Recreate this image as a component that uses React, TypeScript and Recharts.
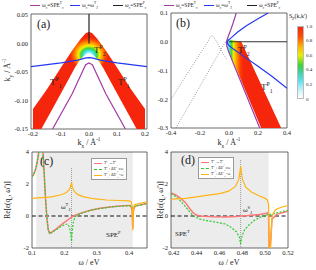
import React from "react";
import { ScatterChart, Scatter, XAxis, YAxis, ReferenceArea, ReferenceLine } from "recharts";

const SERIF = '"Liberation Serif", "DejaVu Serif", serif';
const RED = "#f5260c";
const PURPLE = "#a23aa6";
const BLUE = "#2438f0";
const DARK = "#222222";
const PINK = "#ff7878";
const GREEN = "#2bcc2b";
const ORANGE = "#ffb412";
const SHADE = "#ececec";

// ---- (a) k-space map, T1/T2 channels ----
const A_X_DOMAIN = [-0.207, 0.207];
const A_Y_DOMAIN = [-0.15, 0.052];
const A_X_TICKS = [-0.2, -0.1, 0, 0.1, 0.2];
const A_Y_TICKS = [-0.15, -0.1, -0.05, 0, 0.05];
const A_BAND = [
  [-0.2, -0.15], [-0.2, -0.115], [-0.15, -0.08], [-0.1, -0.042], [-0.06, -0.012], [-0.03, 0.008],
  [-0.012, 0.018], [0, 0.021], [0.012, 0.018], [0.03, 0.008], [0.06, -0.012], [0.1, -0.042],
  [0.15, -0.08], [0.2, -0.115], [0.2, -0.15], [0.17, -0.15], [0.114, -0.1], [0.075, -0.065],
  [0.05, -0.042], [0.03, -0.027], [0.015, -0.02], [0, -0.018], [-0.015, -0.02], [-0.03, -0.027],
  [-0.05, -0.042], [-0.075, -0.065], [-0.114, -0.1], [-0.17, -0.15],
];
const A_SPE_T = [[-0.13, -0.15], [-0.06, -0.088], [-0.012, -0.037], [0, -0.034], [0.012, -0.037], [0.06, -0.088], [0.13, -0.15]];
const A_OMEGA_J = [[-0.207, -0.0405], [-0.1, -0.034], [-0.04, -0.029], [-0.015, -0.0255], [0, -0.0245], [0.015, -0.0255], [0.04, -0.029], [0.1, -0.034], [0.207, -0.0405]];
const A_SPE_P = [[0, 0.052], [0, 0.0]];

// ---- (b) ----
const B_X_DOMAIN = [-0.4, 0.4];
const B_Y_DOMAIN = [-0.3, 0.1];
const B_X_TICKS = [-0.4, -0.2, 0, 0.2, 0.4];
const B_Y_TICKS = [-0.3, -0.2, -0.1, 0, 0.1];
const B_BAND = [
  [-0.022, -0.005], [-0.012, 0.012], [0.005, 0.008], [0.085, 0], [0.36, -0.3],
  [0.222, -0.3], [0.02, -0.058], [0, -0.038], [-0.015, -0.02],
];
const B_SPE_T = [[0.05, 0.1], [0.03, 0.068], [0.01, 0.038], [-0.008, 0.015], [-0.018, 0], [-0.015, -0.015], [-0.002, -0.035], [0.05, -0.1], [0.212, -0.3]];
const B_OMEGA_J = [
  [0.27, 0.1], [0.2, 0.08], [0.12, 0.056], [0.06, 0.034], [0.02, 0.016], [-0.008, 0.004],
  [-0.012, -0.005], [0, -0.013], [0.03, -0.025], [0.1, -0.05], [0.2, -0.085], [0.3, -0.122], [0.4, -0.162],
];
const B_SPE_P = [[0, 0], [0.4, 0]];
const B_DOT_1 = [[-0.4, -0.2], [-0.3, -0.121], [-0.2, -0.042], [-0.15, -0.004], [-0.13, 0.016], [-0.12, 0.022], [-0.108, 0.018], [-0.08, -0.004], [-0.041, -0.042], [-0.01, -0.065]];
const B_DOT_2 = [[-0.366, -0.3], [-0.2, -0.155], [-0.053, -0.025], [-0.025, 0]];

// ---- (c) Re eps vs omega ----
const C_X_DOMAIN = [0.1, 0.455];
const C_Y_DOMAIN = [-2, 4];
const C_X_TICKS = [0.1, 0.2, 0.3, 0.4];
const C_Y_TICKS = [-2, 0, 2, 4];
const C_SPE = [0.113, 0.411];
const C_OMEGA_J = 0.222;
const C_RED = [
  [0.1, 2.45], [0.105, 2.6], [0.11, 2.85], [0.115, 3.25], [0.12, 3.85], [0.124, 5], [0.132, 5],
  [0.134, 4], [0.138, 2.5], [0.142, 1.0], [0.146, -0.1], [0.15, -0.85], [0.154, -1.08], [0.158, -1.05],
  [0.165, -0.95], [0.175, -0.8], [0.19, -0.55], [0.2, -0.4], [0.21, -0.25], [0.22, -0.1], [0.23, 0.02],
  [0.25, 0.18], [0.28, 0.36], [0.31, 0.48], [0.34, 0.56], [0.37, 0.62], [0.4, 0.66], [0.406, 0.6],
  [0.409, 0.3], [0.411, -0.8], [0.413, 0.3], [0.416, 0.55], [0.42, 0.62], [0.43, 0.68], [0.44, 0.72], [0.455, 0.78],
];
const C_GREEN = [
  [0.1, 2.45], [0.105, 2.6], [0.11, 2.85], [0.115, 3.25], [0.12, 3.85], [0.124, 5], [0.132, 5],
  [0.134, 4], [0.138, 2.5], [0.142, 1.0], [0.146, -0.1], [0.15, -0.85], [0.155, -1.1], [0.16, -1.05],
  [0.175, -0.85], [0.19, -0.65], [0.2, -0.55], [0.21, -0.5], [0.216, -0.7], [0.22, -1.2], [0.222, -1.6],
  [0.224, -1.0], [0.228, -0.3], [0.235, 0.0], [0.25, 0.15], [0.28, 0.35], [0.31, 0.47], [0.34, 0.55],
  [0.37, 0.61], [0.4, 0.65], [0.409, 0.6], [0.411, 0.35], [0.413, 0.55], [0.42, 0.62], [0.44, 0.7], [0.455, 0.76],
];
const C_ORANGE = [
  [0.1, 1.1], [0.13, 1.15], [0.16, 1.2], [0.19, 1.33], [0.205, 1.45], [0.215, 1.65], [0.22, 1.9],
  [0.222, 2.1], [0.224, 1.85], [0.23, 1.55], [0.24, 1.35], [0.26, 1.2], [0.29, 1.08], [0.33, 1.0],
  [0.37, 0.97], [0.4, 0.95], [0.406, 0.9], [0.409, 0.6], [0.411, -0.9], [0.413, 0.4], [0.416, 0.7],
  [0.43, 0.78], [0.455, 0.88],
];

// ---- (d) ----
const D_X_DOMAIN = [0.4175, 0.52];
const D_Y_DOMAIN = [-2, 4];
const D_X_TICKS = [0.42, 0.44, 0.46, 0.48, 0.5, 0.52];
const D_Y_TICKS = [-2, 0, 2, 4];
const D_SPE = [0.4175, 0.503];
const D_OMEGA_J = 0.4785;
const D_RED = [
  [0.4175, 1.45], [0.422, 1.3], [0.426, 1.1], [0.43, 0.85], [0.434, 0.45], [0.437, 0.2], [0.44, 0.05],
  [0.445, -0.02], [0.455, -0.05], [0.465, -0.06], [0.475, -0.03], [0.4785, 0], [0.485, 0.03],
  [0.495, 0.1], [0.5, 0.15], [0.502, 0.2], [0.503, 0.1], [0.5035, -2.5], [0.504, -2.5], [0.506, -0.2],
  [0.51, 0.1], [0.52, 0.3],
];
const D_GREEN = [
  [0.4175, 1.4], [0.421, 1.25], [0.425, 1.0], [0.43, 0.6], [0.434, 0.25], [0.438, -0.05], [0.443, -0.2],
  [0.45, -0.3], [0.458, -0.4], [0.465, -0.5], [0.47, -0.7], [0.475, -1.0], [0.4775, -1.35], [0.4785, -1.75],
  [0.4795, -1.3], [0.482, -0.85], [0.486, -0.55], [0.49, -0.3], [0.495, -0.1], [0.5, 0.05], [0.503, 0.1],
  [0.505, 0.1], [0.51, 0.2], [0.52, 0.35],
];
const D_ORANGE = [
  [0.4175, 1.05], [0.43, 1.1], [0.44, 1.2], [0.45, 1.3], [0.46, 1.4], [0.468, 1.55], [0.474, 1.85],
  [0.477, 2.3], [0.4785, 3.1], [0.48, 2.3], [0.483, 1.8], [0.488, 1.5], [0.495, 1.25], [0.5, 1.1],
  [0.502, 1.0], [0.503, 0.7], [0.5035, -3], [0.504, -3], [0.506, 0], [0.509, 0.4], [0.514, 0.55], [0.52, 0.65],
];

const CBAR_TICKS = [1.0, 0.8, 0.6, 0.4, 0.2, 0];

const toPts = (arr: number[][]) => arr.map(([x, y]) => ({ x, y }));
const NoDot = () => null;

const curve = (key: string, pts: number[][], style: Record<string, unknown>) => (
  <Scatter
    key={key}
    data={toPts(pts)}
    fill="none"
    line={{ fill: "none", strokeWidth: 1, ...style }}
    shape={NoDot}
    isAnimationActive={false}
    legendType="none"
  />
);

const tickStyle = { fontSize: 6.5, fill: DARK, fontFamily: SERIF };

function Panel({
  left, top, width, height, mt, mr, yw, xh, xDomain, yDomain, xTicks, yTicks, xd, yd, children,
}: any) {
  return (
    <div style={{ position: "absolute", left, top }}>
      <ScatterChart width={width} height={height} margin={{ top: mt, right: mr, bottom: 0, left: 0 }}>
        <XAxis
          type="number" dataKey="x" domain={xDomain} ticks={xTicks} interval={0}
          allowDataOverflow height={xh} tickLine={false} axisLine={false} tickSize={2} tickMargin={0}
          tick={tickStyle} tickFormatter={(v: number) => v.toFixed(xd)}
        />
        <YAxis
          type="number" dataKey="y" domain={yDomain} ticks={yTicks} interval={0}
          allowDataOverflow width={yw} tickLine={false} axisLine={false} tickSize={2} tickMargin={1}
          tick={tickStyle} tickFormatter={(v: number) => v.toFixed(yd)}
        />
        {children}
        <ReferenceArea
          x1={xDomain[0]} x2={xDomain[1]} y1={yDomain[0]} y2={yDomain[1]}
          fill="none" stroke="#444" strokeWidth={0.8} fillOpacity={0} ifOverflow="visible"
        />
      </ScatterChart>
    </div>
  );
}

const Txt = ({ x, y, size = 6, children, style }: any) => (
  <div style={{ position: "absolute", left: x, top: y, fontSize: size, fontFamily: SERIF, color: DARK, whiteSpace: "nowrap", lineHeight: 1, ...style }}>
    {children}
  </div>
);

const Sw = ({ color, dash, w = 10, h = 1.2 }: any) => (
  <span style={{ display: "inline-block", width: w, borderTop: `${h}px ${dash ? "dashed" : "solid"} ${color}`, verticalAlign: "middle", marginRight: 2 }} />
);

const S = ({ children }: any) => <sup style={{ fontSize: "0.65em", lineHeight: 0 }}>{children}</sup>;
const B = ({ children }: any) => <sub style={{ fontSize: "0.65em", lineHeight: 0 }}>{children}</sub>;

const TopLegend = ({ x }: { x: number }) => (
  <>
    <Txt x={x} y={3} size={5.5}><Sw color={PURPLE} />ω<B>c</B>=SPE<S>T</S><B>c</B></Txt>
    <Txt x={x + 40} y={3} size={5.5}><Sw color={BLUE} />ω<B>c</B>=ω<S>T</S><B>J</B></Txt>
    <Txt x={x + 83} y={3} size={5.5}><Sw color={DARK} />ω<B>c</B>=SPE<S>P</S><B>c</B></Txt>
  </>
);

const LineLegend = ({ x, y }: any) => (
  <div style={{ position: "absolute", left: x, top: y, padding: "1px 2px", border: "0.8px solid #999", background: "#fff", fontFamily: SERIF, fontSize: 3.8, color: DARK, whiteSpace: "nowrap" }}>
    <div style={{ height: 6, lineHeight: "6px" }}><Sw color={PINK} w={8} h={1.4} />T<S>P</S><B>1</B>↔T<S>P</S><B>1</B></div>
    <div style={{ height: 6, lineHeight: "6px" }}><Sw color={GREEN} w={8} h={1.2} dash />T<S>P</S><B>1</B>: ΔE<S>T</S><B>P</B>≠ω<B>J</B></div>
    <div style={{ height: 6, lineHeight: "6px" }}><Sw color={ORANGE} w={8} h={1.2} />T<S>P</S><B>1</B>: ΔE<S>T</S><B>P</B>=ω<B>J</B></div>
  </div>
);

export default function App() {
  return (
    <div style={{ position: "relative", width: 316, height: 270, background: "#fff", overflow: "hidden" }}>
      <style>{"body{margin:0}"}</style>

      <TopLegend x={30} />
      <TopLegend x={164} />

      {/* (a) */}
      <Panel left={0} top={0} width={158} height={150} mt={14} mr={11} yw={31} xh={21}
        xDomain={A_X_DOMAIN} yDomain={A_Y_DOMAIN} xTicks={A_X_TICKS} yTicks={A_Y_TICKS} xd={1} yd={2}>
        <defs>
          <radialGradient id="gradA" cx="0.5" cy="0.23" r="0.17" fx="0.5" fy="0.25">
            <stop offset="0" stopColor="#ffffff" />
            <stop offset="0.14" stopColor="#d8f8ff" />
            <stop offset="0.28" stopColor="#39e4f0" />
            <stop offset="0.42" stopColor="#3ed23a" />
            <stop offset="0.55" stopColor="#f2f200" />
            <stop offset="0.7" stopColor="#ffa000" />
            <stop offset="0.88" stopColor="#ff4a00" />
            <stop offset="1" stopColor={RED} />
          </radialGradient>
        </defs>
        {curve("bandA", A_BAND, { fill: "url(#gradA)", stroke: "none" })}
        {curve("speT", A_SPE_T, { stroke: PURPLE, strokeWidth: 1.2 })}
        {curve("omJ", A_OMEGA_J, { stroke: BLUE, strokeWidth: 1.2 })}
        {curve("speP", A_SPE_P, { stroke: DARK, strokeWidth: 1.2 })}
      </Panel>
      <Txt x={37} y={18} size={12}>(a)</Txt>
      <Txt x={50} y={78} size={9}>T<S>P</S><B>1</B></Txt>
      <Txt x={118} y={78} size={9}>T<S>P</S><B>1</B></Txt>
      <Txt x={94} y={46} size={9}>T<S>P</S><B>2</B></Txt>
      <Txt x={8} y={70} size={8} style={{ transform: "translate(-50%,-50%) rotate(-90deg)" }}>k<B>y</B> / Å<S>-1</S></Txt>
      <Txt x={89} y={143} size={8} style={{ transform: "translate(-50%,-50%)" }}>k<B>x</B> / Å<S>-1</S></Txt>

      {/* (b) */}
      <Panel left={140} top={0} width={160} height={149} mt={13} mr={13} yw={31} xh={21}
        xDomain={B_X_DOMAIN} yDomain={B_Y_DOMAIN} xTicks={B_X_TICKS} yTicks={B_Y_TICKS} xd={1} yd={1}>
        <defs>
          <linearGradient id="gradB" x1="0" y1="0" x2="1" y2="0">
            <stop offset="0" stopColor="#e6fbff" />
            <stop offset="0.05" stopColor="#5fe8f5" />
            <stop offset="0.1" stopColor="#42d742" />
            <stop offset="0.14" stopColor="#eeee00" />
            <stop offset="0.19" stopColor="#ffa000" />
            <stop offset="0.26" stopColor="#ff4000" />
            <stop offset="0.32" stopColor={RED} />
          </linearGradient>
        </defs>
        {curve("dot1", B_DOT_1, { stroke: "#555", strokeWidth: 0.7, strokeDasharray: "0.8 1.6" })}
        {curve("dot2", B_DOT_2, { stroke: "#555", strokeWidth: 0.7, strokeDasharray: "0.8 1.6" })}
        {curve("bandB", B_BAND, { fill: "url(#gradB)", stroke: "none" })}
        {curve("speT", B_SPE_T, { stroke: PURPLE, strokeWidth: 1.2 })}
        {curve("omJ", B_OMEGA_J, { stroke: BLUE, strokeWidth: 1.2 })}
        {curve("speP", B_SPE_P, { stroke: "#333", strokeWidth: 1.2 })}
      </Panel>
      <Txt x={176} y={17} size={12}>(b)</Txt>
      <Txt x={238} y={46} size={9}>T<S>P</S><B>2</B></Txt>
      <Txt x={261} y={83} size={9}>T<S>P</S><B>1</B></Txt>
      <Txt x={229} y={143} size={8} style={{ transform: "translate(-50%,-50%)" }}>k<B>x</B> / Å<S>-1</S></Txt>

      {/* colour bar */}
      <Txt x={289} y={13} size={6}>S<B>P</B>(k,k')</Txt>
      <div style={{ position: "absolute", left: 297, top: 26, width: 7, height: 73, border: "0.5px solid #bbb", boxSizing: "border-box",
        background: "linear-gradient(to top, #ffffff 0%, #d0f4fa 10%, #5fe0ef 24%, #3cd2a0 36%, #3cd23c 46%, #e8f000 60%, #ffb000 73%, #ff5000 86%, " + RED + " 100%)" }} />
      {CBAR_TICKS.map((t) => (
        <Txt key={t} x={306} y={26 + (1 - t) * 73 - 2.5} size={5}>{t === 0 ? "0" : t.toFixed(1)}</Txt>
      ))}

      {/* (c) */}
      <Panel left={0} top={140} width={158} height={130} mt={12} mr={11} yw={32} xh={22}
        xDomain={C_X_DOMAIN} yDomain={C_Y_DOMAIN} xTicks={C_X_TICKS} yTicks={C_Y_TICKS} xd={1} yd={0}>
        <ReferenceArea x1={C_SPE[0]} x2={C_SPE[1]} y1={C_Y_DOMAIN[0]} y2={C_Y_DOMAIN[1]} fill={SHADE} fillOpacity={1} stroke="none" />
        <ReferenceLine y={0} stroke="#111" strokeDasharray="4 2.5" strokeWidth={1} />
        {curve("vj", [[C_OMEGA_J, 3], [C_OMEGA_J, -2]], { stroke: "#888", strokeWidth: 0.8, strokeDasharray: "1 1" })}
        {curve("red", C_RED, { stroke: PINK, strokeWidth: 1.5 })}
        {curve("green", C_GREEN, { stroke: GREEN, strokeWidth: 1.2, strokeDasharray: "2 1.5" })}
        {curve("orange", C_ORANGE, { stroke: ORANGE, strokeWidth: 1.2 })}
      </Panel>
      <Txt x={40} y={155} size={12}>(c)</Txt>
      <LineLegend x={91} y={158} />
      <Txt x={61} y={204} size={7}>ω<S>T</S><B>J</B></Txt>
      <Txt x={106} y={232} size={7}>SPE<S>P</S></Txt>
      <Txt x={8} y={200} size={7.5} style={{ transform: "translate(-50%,-50%) rotate(-90deg)" }}>Re[ε(q<B>c</B>, ω′)]</Txt>
      <Txt x={89} y={263} size={8} style={{ transform: "translate(-50%,-50%)" }}>ω / eV</Txt>

      {/* (d) */}
      <Panel left={140} top={140} width={160} height={130} mt={12} mr={12} yw={31} xh={22}
        xDomain={D_X_DOMAIN} yDomain={D_Y_DOMAIN} xTicks={D_X_TICKS} yTicks={D_Y_TICKS} xd={2} yd={0}>
        <ReferenceArea x1={D_SPE[0]} x2={D_SPE[1]} y1={D_Y_DOMAIN[0]} y2={D_Y_DOMAIN[1]} fill={SHADE} fillOpacity={1} stroke="none" />
        <ReferenceLine y={0} stroke="#111" strokeDasharray="4 2.5" strokeWidth={1} />
        {curve("vj", [[D_OMEGA_J, 3.5], [D_OMEGA_J, -2]], { stroke: "#888", strokeWidth: 0.8, strokeDasharray: "1 1" })}
        {curve("red", D_RED, { stroke: PINK, strokeWidth: 1.5 })}
        {curve("green", D_GREEN, { stroke: GREEN, strokeWidth: 1.2, strokeDasharray: "2 1.5" })}
        {curve("orange", D_ORANGE, { stroke: ORANGE, strokeWidth: 1.2 })}
      </Panel>
      <Txt x={181} y={154} size={12}>(d)</Txt>
      <LineLegend x={198} y={157} />
      <Txt x={243} y={207} size={7}>ω<S>S</S><B>J</B></Txt>
      <Txt x={175} y={231} size={7}>SPE<S>T</S></Txt>
      <Txt x={161} y={200} size={7.5} style={{ transform: "translate(-50%,-50%) rotate(-90deg)" }}>Re[ε(q<B>c</B>, ω′)]</Txt>
      <Txt x={229} y={263} size={8} style={{ transform: "translate(-50%,-50%)" }}>ω / eV</Txt>
    </div>
  );
}
